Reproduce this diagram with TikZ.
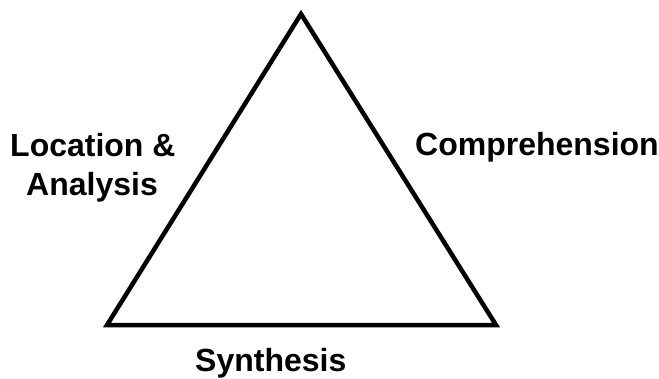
\documentclass[tikz,border=0pt]{standalone}
\usepackage{fontspec}
\setmainfont{Liberation Sans}
\begin{document}
\begin{tikzpicture}[x=1pt,y=-1pt,
  lbl/.style={font=\fontsize{32}{38}\selectfont\bfseries, inner sep=0pt, anchor=base west, text=black},
  edge/.style={line width=4.5pt, line join=miter, black}]
\useasboundingbox (0,0) rectangle (659,378);
\coordinate (top) at (301,14);
\coordinate (bl) at (107,325);
\coordinate (br) at (496,325);
\draw[edge] (top) -- (bl) -- (br) -- cycle;
\node[lbl] (loc) at (10,156) {Location \&};
\node[lbl] (ana) at (26,195) {Analysis};
\node[lbl] (comp) at (415,155) {Comprehension};
\node[lbl] (syn) at (195,371) {Synthesis};
\end{tikzpicture}
\end{document}
